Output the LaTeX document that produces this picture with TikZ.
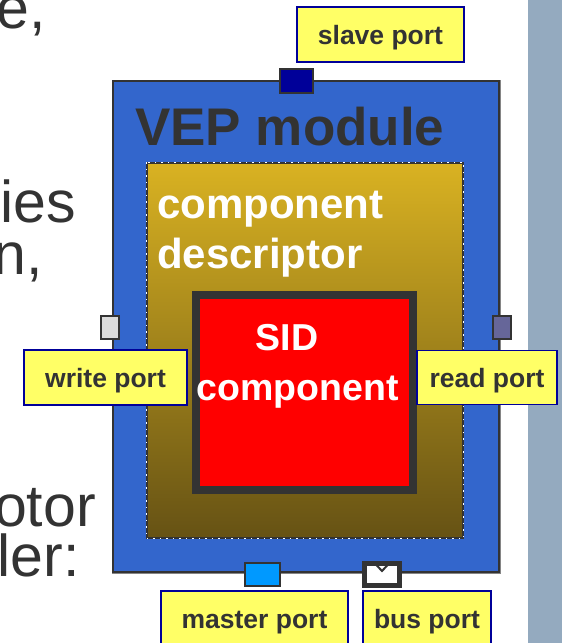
\documentclass[tikz,border=0pt]{standalone}
\usepackage{fontspec}
\setmainfont{Liberation Sans}
\definecolor{modblue}{HTML}{3366CC}
\definecolor{darkgray}{HTML}{333333}
\definecolor{labelyellow}{HTML}{FFFF66}
\definecolor{labelblue}{HTML}{000099}
\definecolor{goldtop}{HTML}{D9B222}
\definecolor{goldbot}{HTML}{665214}
\definecolor{barblue}{HTML}{94AABF}
\definecolor{masterblue}{HTML}{0099FF}
\definecolor{readgray}{HTML}{666699}
\tikzset{
  portlabel/.style={draw=labelblue, fill=labelyellow, line width=1.3pt, text=darkgray,
    font=\bfseries\fontsize{26.5}{28}\selectfont, inner sep=0pt, text height=19pt, text depth=0pt},
  portsq/.style={draw=darkgray, line width=1.6pt, inner sep=0pt},
  slidetext/.style={text=darkgray, font=\fontsize{59}{59}\selectfont, inner sep=0pt, anchor=base east},
  whitetext/.style={text=white, font=\bfseries\fontsize{42}{42}\selectfont, inner sep=0pt},
}
\begin{document}
\begin{tikzpicture}[x=1pt, y=-1pt]
  \useasboundingbox (0,0) rectangle (562,643);
  \clip (0,0) rectangle (562,643);

  % slide background
  \fill[barblue] (528,0) rectangle (562,643);
  \node[slidetext] (frag1) at (46,28) {e,};
  \node[slidetext] (frag2) at (76,222) {ies};
  \node[slidetext] (frag3) at (43,274) {n,};
  \node[slidetext] (frag4) at (96,526) {otor};
  \node[slidetext] (frag5) at (80,576) {ler:};

  % VEP module
  \node[draw=darkgray!60, line width=3pt, minimum width=386pt, minimum height=491pt] (shadow) at (306,326.5) {};
  \node[draw=darkgray, fill=modblue, line width=1.6pt, minimum width=386pt, minimum height=491pt] (module) at (306,326.5) {};
  \node[anchor=base west, inner sep=0pt, text=darkgray, font=\bfseries\fontsize{53}{53}\selectfont] (vep) at (135,145) {VEP module};

  % component descriptor
  \node[top color=goldtop, bottom color=goldbot, draw=darkgray, line width=1.5pt,
    minimum width=316pt, minimum height=375pt] (descr) at (305,350.5) {};
  \draw[white, line width=1pt, dash pattern=on 1.5pt off 5pt] (descr.north west) rectangle (descr.south east);
  \node[whitetext, anchor=base west] (descr1) at (157,218) {component};
  \node[whitetext, anchor=base west] (descr2) at (157,268) {descriptor};

  % SID component
  \node[draw=darkgray, fill=red, line width=8pt, minimum width=217pt, minimum height=195pt] (sid) at (304.5,392.5) {};
  \node[whitetext, anchor=base, font=\bfseries\fontsize{37.5}{37.5}\selectfont] (sid1) at (287,350) {SID};
  \node[whitetext, anchor=base, font=\bfseries\fontsize{37.5}{37.5}\selectfont] (sid2) at (297.5,400) {component};

  % ports
  \node[portsq, fill=labelblue, minimum width=33pt, minimum height=24pt] (slave) at (296.5,81) {};
  \node[portsq, fill=black!14, minimum width=18pt, minimum height=23pt] (write) at (110,327.5) {};
  \node[portsq, fill=readgray, minimum width=18pt, minimum height=23pt] (read) at (502,327.5) {};
  \node[portsq, fill=masterblue, minimum width=35pt, minimum height=23pt] (master) at (262.5,574.5) {};
  \node[draw=darkgray, fill=white, line width=5pt, minimum width=35pt, minimum height=22pt, inner sep=0pt] (bus) at (382,574.5) {};
  \draw[darkgray, line width=2pt, line join=miter] ([xshift=-7pt,yshift=-2.5pt]bus.north) -- ([yshift=-10pt]bus.north) -- ([xshift=7pt,yshift=-2.5pt]bus.north);

  % port labels
  \node[portlabel, minimum width=167pt, minimum height=55pt] (slavelbl) at (380.5,34.5) {slave port};
  \node[portlabel, minimum width=163pt, minimum height=55pt] (writelbl) at (105.5,377.5) {write port};
  \node[portlabel, minimum width=140pt, minimum height=54pt] (readlbl) at (487,377.5) {read port};
  \node[portlabel, minimum width=187pt, minimum height=55pt] (masterlbl) at (254.5,618.5) {master port};
  \node[portlabel, minimum width=128pt, minimum height=55pt] (buslbl) at (427,618.5) {bus port};
\end{tikzpicture}
\end{document}
